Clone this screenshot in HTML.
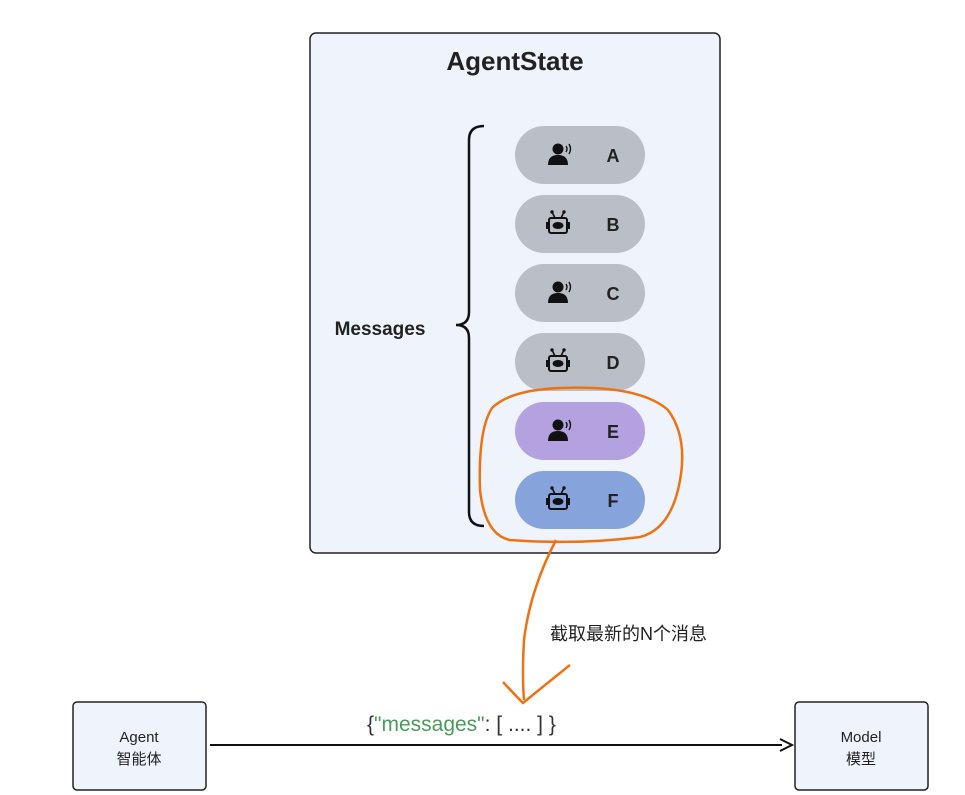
<!DOCTYPE html>
<html><head><meta charset="utf-8"><style>
body{margin:0;background:#fff;}
svg{display:block;font-family:"Liberation Sans","Noto Sans CJK SC",sans-serif;}
</style></head><body>
<svg width="965" height="795" viewBox="0 0 965 795">
<defs>
<g id="user"><circle cx="0" cy="-6" r="5.5" fill="#111"/><path d="M-10 10 Q-10 0 0 0 Q10 0 10 10 Z" fill="#111"/><path d="M8 -9 Q10 -6 8 -3" stroke="#111" stroke-width="1.4" fill="none"/><path d="M11 -11 Q14 -6 11 -1" stroke="#111" stroke-width="1.4" fill="none"/></g>
<g id="bot"><rect x="-9" y="-6" width="18" height="15" rx="2" fill="none" stroke="#111" stroke-width="2"/><ellipse cx="0" cy="1.5" rx="5.5" ry="3.5" fill="#111"/><rect x="-12" y="-2" width="3" height="7" fill="#111"/><rect x="9" y="-2" width="3" height="7" fill="#111"/><path d="M-3 -6 L-6 -12 M3 -6 L6 -12" stroke="#111" stroke-width="1.6"/><circle cx="-6" cy="-12" r="1.7" fill="#111"/><circle cx="6" cy="-12" r="1.7" fill="#111"/></g>
</defs>
<rect x="310" y="33" width="410" height="520" rx="6" fill="#eef3fc" stroke="#222" stroke-width="1.5"/>
<text x="515" y="70" text-anchor="middle" font-size="26" font-weight="bold" fill="#222">AgentState</text>
<text x="380" y="335" text-anchor="middle" font-size="19" font-weight="bold" fill="#222">Messages</text>
<path d="M484 126 Q469 126 469 140 L469 312 Q469 325 456 325 Q469 325 469 338 L469 512 Q469 526 484 526" fill="none" stroke="#111" stroke-width="2.5"/>
<g font-size="18" font-weight="bold" fill="#222" text-anchor="middle">
<rect x="515" y="126" width="130" height="58" rx="29" fill="#babec7"/><use href="#user" x="558" y="155"/><text x="613" y="162">A</text>
<rect x="515" y="195" width="130" height="58" rx="29" fill="#babec7"/><use href="#bot" x="558" y="224"/><text x="613" y="231">B</text>
<rect x="515" y="264" width="130" height="58" rx="29" fill="#babec7"/><use href="#user" x="558" y="293"/><text x="613" y="300">C</text>
<rect x="515" y="333" width="130" height="58" rx="29" fill="#babec7"/><use href="#bot" x="558" y="362"/><text x="613" y="369">D</text>
<rect x="515" y="402" width="130" height="58" rx="29" fill="#b3a1e0"/><use href="#user" x="558" y="431"/><text x="613" y="438">E</text>
<rect x="515" y="471" width="130" height="58" rx="29" fill="#86a3db"/><use href="#bot" x="558" y="500"/><text x="613" y="507">F</text>
</g>
<path d="M560 388 Q640 385 668 410 Q690 440 678 490 Q668 530 640 537 Q580 545 510 540 Q485 535 480 490 Q478 430 492 408 Q510 390 560 388" fill="none" stroke="#ee7212" stroke-width="2.5"/>
<path d="M556 540 Q530 590 524 640 Q522 675 524 700" fill="none" stroke="#ee7212" stroke-width="2.5"/>
<path d="M503 682 Q515 695 523 703 Q545 685 570 665" fill="none" stroke="#ee7212" stroke-width="2.5"/>
<text x="550" y="640" font-size="18" fill="#222">截取最新的N个消息</text>
<rect x="73" y="702" width="133" height="88" rx="4" fill="#eef3fc" stroke="#222" stroke-width="1.5"/>
<text x="139" y="742" text-anchor="middle" font-size="15" fill="#222">Agent</text>
<text x="139" y="764" text-anchor="middle" font-size="15" fill="#222">智能体</text>
<rect x="795" y="702" width="133" height="88" rx="4" fill="#eef3fc" stroke="#222" stroke-width="1.5"/>
<text x="861" y="742" text-anchor="middle" font-size="15" fill="#222">Model</text>
<text x="861" y="764" text-anchor="middle" font-size="15" fill="#222">模型</text>
<line x1="210" y1="745" x2="782" y2="745" stroke="#111" stroke-width="2"/>
<path d="M780 739 L792 745 L780 751" fill="none" stroke="#111" stroke-width="2"/>
<text x="367" y="731" font-size="21" fill="#333">{<tspan fill="#4a9a5a">"messages"</tspan>: [ ....  ] }</text>
</svg>
</body></html>
